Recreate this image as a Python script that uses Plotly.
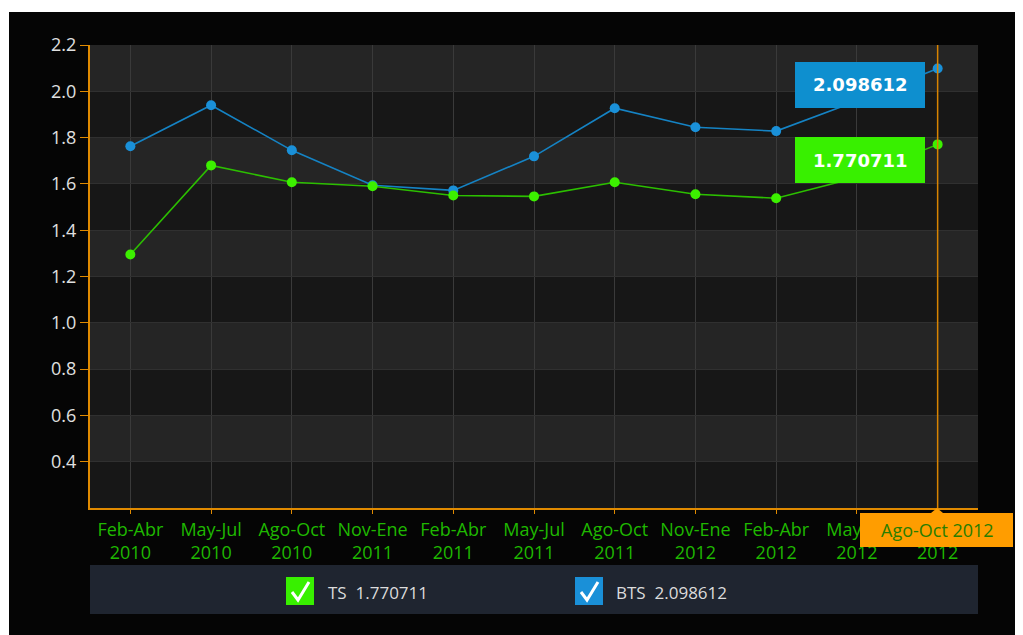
import plotly.graph_objects as go

# Datos
periodos = ["Feb-Abr<br>2010", "May-Jul<br>2010", "Ago-Oct<br>2010", "Nov-Ene<br>2011",
            "Feb-Abr<br>2011", "May-Jul<br>2011", "Ago-Oct<br>2011", "Nov-Ene<br>2012",
            "Feb-Abr<br>2012", "May-Jul<br>2012", "Ago-Oct<br>2012"]
ts = [1.295, 1.68, 1.607, 1.59, 1.55, 1.546, 1.607, 1.555, 1.538, 1.628, 1.770711]
bts = [1.763, 1.94, 1.745, 1.594, 1.572, 1.719, 1.927, 1.845, 1.828, 1.958, 2.098612]
y_ticks = [0.4, 0.6, 0.8, 1.0, 1.2, 1.4, 1.6, 1.8, 2.0, 2.2]

# la pagina tiene 8px de margen
OFF = 8
W, H = 1023 - OFF, 635 - OFF
L, R, T, B = 90, 978, 45, 508  # en pixeles de la pagina


def px(x):
    return (x - L) / (R - L)


def py(y):
    return (B - y) / (B - T)


idx = list(range(len(periodos)))

fig = go.Figure()
fig.add_trace(go.Scatter(x=idx, y=bts, mode="lines+markers", name="BTS",
                         line=dict(color="#1583c4", width=1.6),
                         marker=dict(color="#1a90d8", size=10)))
fig.add_trace(go.Scatter(x=idx, y=ts, mode="lines+markers", name="TS",
                         line=dict(color="#2cbf00", width=1.6),
                         marker=dict(color="#3cf000", size=10)))

shapes = []
# fondo negro
shapes.append(dict(type="rect", xref="paper", yref="paper", x0=px(9), x1=px(1040),
                   y0=py(12), y1=py(700), fillcolor="#050505", line_width=0, layer="below"))
shapes.append(dict(type="rect", xref="paper", yref="paper", x0=0, x1=1, y0=0, y1=1,
                   fillcolor="#171717", line_width=0, layer="below"))
# bandas
for lo in [0.4, 0.8, 1.2, 1.6, 2.0]:
    shapes.append(dict(type="rect", xref="paper", yref="y", x0=0, x1=1, y0=lo, y1=lo + 0.2,
                       fillcolor="#252525", line_width=0, layer="below"))
# cruz vertical
shapes.append(dict(type="line", xref="x", yref="paper", x0=10, x1=10, y0=0, y1=1,
                   line=dict(color="#d98400", width=1.5)))
# etiquetas de valor
shapes.append(dict(type="rect", xref="paper", yref="paper", x0=px(795), x1=px(925),
                   y0=py(62), y1=py(108), fillcolor="#0e8fcf", line_width=0))
shapes.append(dict(type="rect", xref="paper", yref="paper", x0=px(795), x1=px(925),
                   y0=py(137), y1=py(183), fillcolor="#38f000", line_width=0))
# etiqueta eje x
shapes.append(dict(type="rect", xref="paper", yref="paper", x0=px(860), x1=px(1013),
                   y0=py(513), y1=py(547), fillcolor="#ff9d00", line_width=0))
shapes.append(dict(type="path", xref="paper", yref="paper",
                   path=f"M {px(931)} {py(513)} L {px(937)} {py(508)} L {px(943)} {py(513)} Z",
                   fillcolor="#ff9d00", line_width=0))
# leyenda
shapes.append(dict(type="rect", xref="paper", yref="paper", x0=0, x1=1,
                   y0=py(565), y1=py(614), fillcolor="#1f2530", line_width=0))
for x0, col in [(286, "#38f000"), (575, "#1a90d8")]:
    shapes.append(dict(type="rect", xref="paper", yref="paper", x0=px(x0), x1=px(x0 + 28),
                       y0=py(577), y1=py(605), fillcolor=col, line_width=0))
    shapes.append(dict(type="path", xref="paper", yref="paper",
                       path=f"M {px(x0 + 6)} {py(592)} L {px(x0 + 12)} {py(600)} L {px(x0 + 23)} {py(582)}",
                       line=dict(color="white", width=3)))


def nota(x, y, texto, color, size, family="Open Sans", anchor="center"):
    return dict(xref="paper", yref="paper", x=px(x), y=py(y), text=texto, showarrow=False,
                xanchor=anchor, yanchor="middle", font=dict(color=color, size=size, family=family))


annotations = [
    nota(860, 85, "<b>2.098612</b>", "white", 18, "DejaVu Sans"),
    nota(860, 160, "<b>1.770711</b>", "white", 18, "DejaVu Sans"),
    nota(937, 530, "Ago-Oct 2012", "#2a7d00", 18),
    nota(326, 592, "TS&nbsp;&nbsp;1.770711", "#dcdcdc", 17, anchor="left"),
    nota(614, 592, "BTS&nbsp;&nbsp;2.098612", "#dcdcdc", 17, anchor="left"),
]

fig.update_layout(
    width=W, height=H,
    margin=dict(l=L - OFF, r=W - (R - OFF), t=T - OFF, b=H - (B - OFF), pad=0),
    paper_bgcolor="white",
    plot_bgcolor="#171717",
    showlegend=False,
    shapes=shapes,
    annotations=annotations,
    xaxis=dict(range=[-0.5, 10.5], tickvals=idx, ticktext=periodos,
               showgrid=True, gridcolor="#3a3a3a", gridwidth=1,
               showline=True, linecolor="#e08a00", linewidth=2,
               ticks="outside", ticklen=4, tickcolor="#e08a00", zeroline=False,
               tickfont=dict(color="#1fb800", size=18, family="Open Sans")),
    yaxis=dict(range=[0.2, 2.2], tickvals=y_ticks, tickformat=".1f",
               showgrid=True, gridcolor="#303030", gridwidth=1,
               showline=True, linecolor="#e08a00", linewidth=2,
               ticks="outside", ticklen=8, tickcolor="#e08a00", zeroline=False,
               tickfont=dict(color="#e0e0e0", size=18, family="Open Sans")),
)

fig.write_html("out.html")
